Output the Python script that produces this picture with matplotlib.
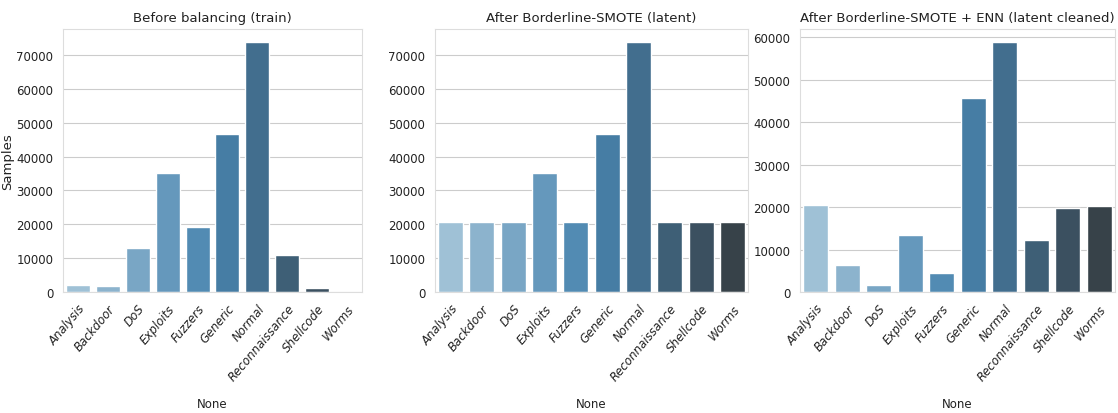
import matplotlib
matplotlib.use("Agg")
import matplotlib.pyplot as plt
import seaborn as sns
import numpy as np

categories = ["Analysis", "Backdoor", "DoS", "Exploits", "Fuzzers", "Generic",
              "Normal", "Reconnaissance", "Shellcode", "Worms"]
before_counts = [2000, 1750, 12900, 35200, 19100, 46700, 74000, 10900, 1100, 130]
smote_counts = [20600, 20600, 20600, 35200, 20600, 46700, 74000, 20600, 20600, 20600]
enn_counts = [20400, 6300, 1700, 13400, 4500, 45800, 59000, 12300, 19800, 20300]
titles = ["Before balancing (train)", "After Borderline-SMOTE (latent)",
          "After Borderline-SMOTE + ENN (latent cleaned)"]

sns.set_style("whitegrid")
plt.rcParams['font.family'] = ['DejaVu Sans']

fig = plt.figure(figsize=(11.18, 4.14), dpi=100)
positions = [(63, 362), (435, 748), (800, 1115)]
W, H = 1118, 414
top, bottom = 30, 293
palette = sns.color_palette("Blues_d", len(categories))
for (l, r), vals, title in zip(positions, [before_counts, smote_counts, enn_counts], titles):
    ax = fig.add_axes([l / W, 1 - bottom / H, (r - l) / W, (bottom - top) / H])
    sns.barplot(x=categories, y=vals, hue=categories, palette=palette, legend=False, ax=ax)
    ax.set_title(title, fontsize=9.5, color='#222222')
    ax.set_xlabel("None", fontsize=8.5, color='#222222', labelpad=10)
    ax.tick_params(axis='both', labelsize=8.5, labelcolor='#222222')
    for lab in ax.get_xticklabels():
        lab.set_rotation(50)
        lab.set_ha('right')
        lab.set_rotation_mode('anchor')
        lab.set_style('italic')
    for s in ax.spines.values():
        s.set_color('#dddddd')
    if l == 63:
        ax.set_ylabel("Samples", fontsize=9.5, color='#222222')
        ax.yaxis.set_label_coords(-0.165, 0.5)
    else:
        ax.set_ylabel("")

fig.savefig("out.png", dpi=100)
